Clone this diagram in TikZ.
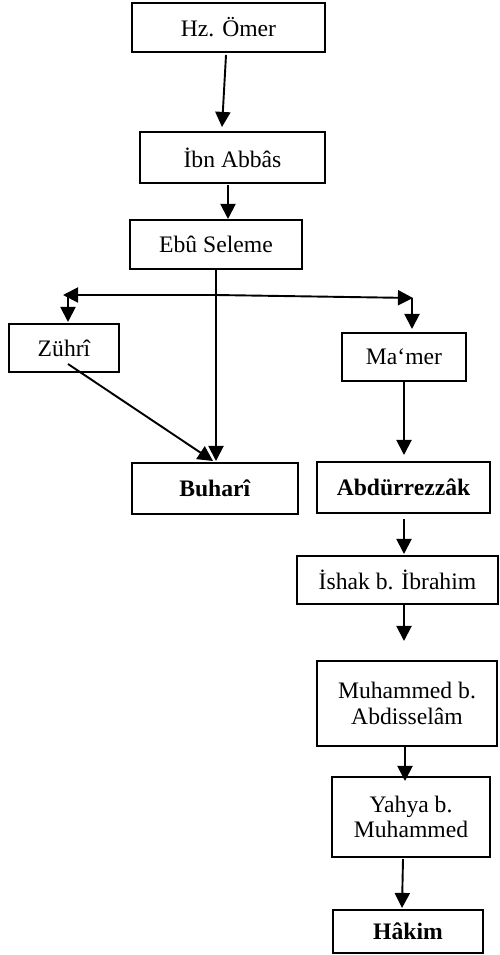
\documentclass[tikz,border=0pt]{standalone}
\usepackage{fontspec}
\setmainfont{Liberation Serif}
\usetikzlibrary{arrows.meta,calc}
\begin{document}
\begin{tikzpicture}[x=0.55pt,y=-0.55pt,
  box/.style={draw,line width=1.1pt,inner sep=0pt,align=center,font=\fontsize{13}{14}\selectfont},
  sz/.style n args={2}{minimum width=#1*0.55pt,minimum height=#2*0.55pt},
  arr/.style={line width=1.05pt,-{Triangle[length=8.3pt,width=8.3pt]}}]
\useasboundingbox (0,0) rectangle (499,955);
% nodes
\node[box,sz={193}{49}] (omer)   at (228.5,27.5) {Hz. Ömer};
\node[box,sz={185}{51}] (abbas)  at (232.5,157.5) {İbn Abbâs};
\node[box,sz={172}{49}] (seleme) at (216,244.5) {Ebû Seleme};
\node[box,sz={110}{48}] (zuhri)  at (64,348) {Zührî};
\node[box,sz={124}{48}] (mamer)  at (404,357) {Ma‘mer};
\node[box,sz={166}{51}] (buhari) at (215,488.5) {\textbf{Buharî}};
\node[box,sz={173}{51}] (abdur)  at (403.5,487.5) {\textbf{Abdürrezzâk}};
\node[box,sz={201}{48}] (ishak)  at (397.5,580) {İshak b. İbrahim};
\node[box,sz={180}{85}] (muham)  at (407,703.5) {Muhammed b.\\Abdisselâm};
\node[box,sz={158}{80}] (yahya)  at (411,817) {Yahya b.\\Muhammed};
\node[box,sz={150}{43}] (hakim)  at (408,931.5) {\textbf{Hâkim}};
% branching coordinates
\coordinate (split) at (216,295);
\coordinate (lt) at (63,295);
\coordinate (rt) at (413,298);
\coordinate (ld) at (68,295);
\coordinate (rd) at (412,298);
% connectors
\draw[arr] ($(omer.south)+(-2.5,2)$) -- ($(abbas.north)+(-10.5,-4)$);
\draw[arr] ($(abbas.south)+(-4.5,1)$) -- ($(seleme.north)+(12,0)$);
\draw[arr] (seleme.south) -- ($(buhari.north)+(1,-1)$);
\draw[arr] (split) -- (lt);
\draw[arr] (split) -- (rt);
\draw[arr] (ld) -- ($(zuhri.north)+(4,-1)$);
\draw[arr] (rd) -- ($(mamer.north)+(8,-3)$);
\draw[arr] ($(zuhri.center)+(4,16)$) -- ($(buhari.north)+(-2,-1)$);
\draw[arr] (mamer.south) -- ($(abdur.north)+(0.5,-6)$);
\draw[arr] ($(abdur.south)+(0.5,5)$) -- ($(ishak.north)+(6.5,-1)$);
\draw[arr] ($(ishak.south)+(6.5,0)$) -- ($(muham.north)+(-3,-19)$);
\draw[arr] ($(muham.south)+(-2,0)$) -- ($(yahya.north)+(-6,5)$);
\draw[arr] ($(yahya.south)+(-8,1)$) -- ($(hakim.north)+(-6,-1)$);
\end{tikzpicture}
\end{document}
